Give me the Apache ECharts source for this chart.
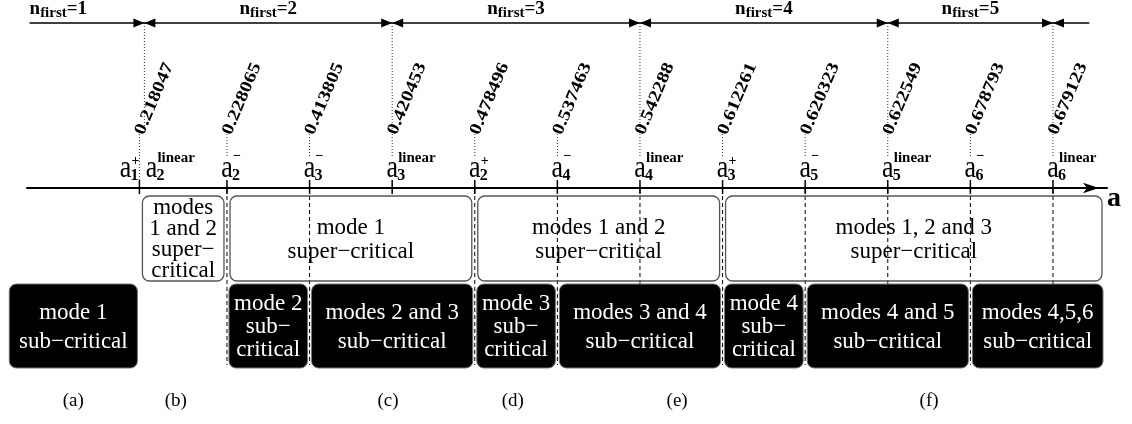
<!DOCTYPE html>
<html>
<head>
<meta charset="utf-8">
<script src="https://cdn.jsdelivr.net/npm/echarts@6/dist/echarts.min.js"></script>
<style>
html, body { margin: 0; background: #fff; }
#chart { width: 1132px; height: 424px; }
</style>
</head>
<body>
<div id="chart"></div>
<script>
// critical values of a, drawn at evenly spaced slots (schematic, not to scale)
var tickValues = ['0.218047', '0.228065', '0.413805', '0.420453', '0.478496', '0.537463',
                  '0.542288', '0.612261', '0.620323', '0.622549', '0.678793', '0.679123'];
var tickPos = [-0.06, 1, 2, 3, 4, 5, 6, 7, 8, 9, 10, 11];
// [subscript, superscript] of each a at the tick (first tick carries two names)
var tickNames = [
	[['1', '+'], ['2', 'linear']],
	[['2', '−']], [['3', '−']], [['3', 'linear']], [['2', '+']],
	[['4', '−']], [['4', 'linear']], [['3', '+']], [['5', '−']],
	[['5', 'linear']], [['6', '−']], [['6', 'linear']]
];

// n_first changes at the a_n^linear values
var nFirst = [1, 2, 3, 4, 5];
var nBounds = [0, 3, 6, 9, 11];

// super-critical regimes (open boxes)
var superFrom = [-0.06, 1, 4, 7];
var superTo = [1, 4, 7, 11.63];
var superText = ['modes\n1 and 2\nsuper−\ncritical', 'mode 1\nsuper−critical',
                 'modes 1 and 2\nsuper−critical', 'modes 1, 2 and 3\nsuper−critical'];

// sub-critical regimes (black boxes)
var subFrom = [-1.66, 1, 2, 4, 5, 7, 8, 10];
var subTo = [-0.06, 2, 4, 5, 7, 8, 10, 11.63];
var subText = ['mode 1\nsub−critical', 'mode 2\nsub−\ncritical', 'modes 2 and 3\nsub−critical',
               'mode 3\nsub−\ncritical', 'modes 3 and 4\nsub−critical', 'mode 4\nsub−\ncritical',
               'modes 4 and 5\nsub−critical', 'modes 4,5,6\nsub−critical'];

var panelNames = ['(a)', '(b)', '(c)', '(d)', '(e)', '(f)'];
var panelPos = [-0.86, 0.38, 2.95, 4.46, 6.45, 9.5];

// ---- layout (y in px below the a axis) ----
var SERIF = '"Liberation Serif", "Times New Roman", serif';
var TOP_Y = -165, VAL_Y = -54, NAME_Y = -31;
var SUPER_ROW = [8, 93], SUB_ROW = [96, 180];
var dashDepth = [0, 177, 177, 0, 177, 177, 99, 177, 177, 99, 177, 99];
var lineStart = -1.39, lineEnd = 11.44;

function boxSeries(from, to, texts, row, dark) {
	return {
		type: 'custom', z: dark ? 4 : 2, silent: true,
		data: from.map(function (f, i) { return [f, to[i]]; }),
		renderItem: function (params, api) {
			var i = params.dataIndex;
			var inset = dark ? 2 : 3;
			var p0 = api.coord([api.value(0), row[0]]);
			var p1 = api.coord([api.value(1), row[1]]);
			var x = p0[0] + inset, w = p1[0] - p0[0] - 2 * inset;
			var n = texts[i].split('\n').length;
			return {
				type: 'group',
				children: [{
					type: 'rect',
					shape: { x: x, y: p0[1], width: w, height: p1[1] - p0[1], r: 7 },
					style: { fill: dark ? '#000' : 'none', stroke: dark ? '#777' : '#555', lineWidth: dark ? 1 : 1.3 }
				}, {
					type: 'text', x: x + w / 2, y: (p0[1] + p1[1]) / 2 + 1,
					style: {
						text: texts[i], fill: dark ? '#fff' : '#000', font: '23px ' + SERIF,
						align: 'center', verticalAlign: 'middle',
						lineHeight: n > 3 ? 21 : (n === 3 ? 23 : (dark ? 29 : 24))
					}
				}]
			};
		}
	};
}

var chart = echarts.init(document.getElementById('chart'));
var option = {
	animation: false,
	grid: { left: 27, right: 25, top: 0, bottom: 0 },
	xAxis: {
		type: 'value', min: -1.421, max: 11.654,
		axisLabel: { show: false }, axisTick: { show: false }, splitLine: { show: false },
		axisLine: {
			onZero: true, symbol: ['none', 'arrow'], symbolSize: [8, 16], symbolOffset: [0, -8],
			lineStyle: { color: '#000', width: 2 }
		},
		name: 'a', nameLocation: 'end', nameGap: 0,
		nameTextStyle: { fontFamily: SERIF, fontWeight: 'bold', fontSize: 28, color: '#000',
			align: 'left', verticalAlign: 'top', lineHeight: 22 }
	},
	yAxis: { type: 'value', min: -188, max: 236, inverse: true, show: false },
	series: [
		// n_first line across the top
		{
			type: 'line', silent: true, showSymbol: false, z: 3,
			data: [[lineStart, TOP_Y], [lineEnd, TOP_Y]],
			lineStyle: { color: '#000', width: 1.3 }
		},
		// arrowheads and dotted guides at the n_first bounds
		{
			type: 'custom', z: 3, silent: true,
			data: nBounds.map(function (b) { return [b, TOP_Y]; }),
			renderItem: function (params, api) {
				var p = api.coord([api.value(0), TOP_Y]);
				var q = api.coord([api.value(0), VAL_Y]);
				var x = p[0], y = p[1];
				return {
					type: 'group',
					children: [
						{ type: 'polygon', shape: { points: [[x, y], [x - 11, y - 4.5], [x - 11, y + 4.5]] }, style: { fill: '#000' } },
						{ type: 'polygon', shape: { points: [[x, y], [x + 11, y - 4.5], [x + 11, y + 4.5]] }, style: { fill: '#000' } },
						{ type: 'line', shape: { x1: x, y1: y, x2: x, y2: q[1] }, style: { stroke: '#333', lineWidth: 1, lineDash: [1, 2] } }
					]
				};
			}
		},
		// n_first labels
		{
			type: 'custom', z: 3, silent: true,
			data: nFirst.map(function (k, i) {
				return [i === 0 ? lineStart : (nBounds[i - 1] + nBounds[i]) / 2, TOP_Y];
			}),
			renderItem: function (params, api) {
				var i = params.dataIndex;
				var p = api.coord([api.value(0), TOP_Y - 14]);
				return {
					type: 'text', x: p[0], y: p[1],
					style: {
						text: '{n|n}{s|first}{e|=' + nFirst[i] + '}',
						align: i === 0 ? 'left' : 'center', verticalAlign: 'middle',
						rich: {
							n: { fontFamily: SERIF, fontWeight: 'bold', fontSize: 19, fill: '#000' },
							s: { fontFamily: SERIF, fontWeight: 'bold', fontSize: 15, fill: '#000', padding: [8, 0, 0, 0] },
							e: { fontFamily: SERIF, fontWeight: 'bold', fontSize: 19, fill: '#000' }
						}
					}
				};
			}
		},
		// dotted / dashed guides at each tick
		{
			type: 'custom', z: 1, silent: true,
			data: tickPos.map(function (t) { return [t, 0]; }),
			renderItem: function (params, api) {
				var i = params.dataIndex;
				var a = api.coord([api.value(0), VAL_Y]);
				var b = api.coord([api.value(0), i === 0 ? -5 : NAME_Y]);
				var children = [{ type: 'line', shape: { x1: a[0], y1: a[1], x2: b[0], y2: b[1] },
					style: { stroke: '#333', lineWidth: 1, lineDash: [1, 2] } }];
				if (dashDepth[i]) {
					var c = api.coord([api.value(0), 1]);
					var d = api.coord([api.value(0), dashDepth[i]]);
					children.push({ type: 'line', shape: { x1: c[0], y1: c[1], x2: d[0], y2: d[1] },
						style: { stroke: '#000', lineWidth: 1, lineDash: [4, 3] } });
				}
				return { type: 'group', children: children };
			}
		},
		// tick marks
		{
			type: 'custom', z: 5, silent: true,
			data: tickPos.map(function (t) { return [t, 0]; }),
			renderItem: function (params, api) {
				var p = api.coord([api.value(0), 0]);
				return { type: 'line', shape: { x1: p[0], y1: p[1] - 8, x2: p[0], y2: p[1] + 6 },
					style: { stroke: '#000', lineWidth: 1.5 } };
			}
		},
		// rotated critical values
		{
			type: 'custom', z: 3, silent: true,
			data: tickPos.map(function (t) { return [t, VAL_Y]; }),
			renderItem: function (params, api) {
				var p = api.coord([api.value(0), VAL_Y]);
				return {
					type: 'text', x: p[0], y: p[1], rotation: 67 * Math.PI / 180, scaleX: 1.2,
					style: { text: tickValues[params.dataIndex], font: 'bold 17px ' + SERIF, fill: '#000',
						align: 'left', verticalAlign: 'middle' }
				};
			}
		},
		// a_n^± names
		{
			type: 'custom', z: 3, silent: true,
			data: tickPos.map(function (t) { return [t, 0]; }),
			renderItem: function (params, api) {
				var names = tickNames[params.dataIndex];
				var p = api.coord([api.value(0), 0]);
				var children = [];
				names.forEach(function (nm, k) {
					var cx = names.length > 1 ? (k === 0 ? p[0] - 14 : p[0] + 12) : p[0];
					var lin = nm[1] === 'linear';
					var supY = lin ? 30 : (nm[1] === '+' ? 27 : 32);
					children.push(
						{ type: 'text', x: cx, y: p[1] - 20, scaleY: 1.25,
							style: { text: 'a', font: '26px ' + SERIF, fill: '#000', align: 'center', verticalAlign: 'middle' } },
						{ type: 'text', x: cx + 6, y: p[1] - supY,
							style: { text: nm[1], font: (lin ? 'bold 15px ' : 'bold 14px ') + SERIF, fill: '#000', align: 'left', verticalAlign: 'middle' } },
						{ type: 'text', x: cx + 5, y: p[1] - 12,
							style: { text: nm[0], font: 'bold 16px ' + SERIF, fill: '#000', align: 'left', verticalAlign: 'middle' } }
					);
				});
				return { type: 'group', children: children };
			}
		},
		boxSeries(superFrom, superTo, superText, SUPER_ROW, false),
		boxSeries(subFrom, subTo, subText, SUB_ROW, true),
		// panel labels
		{
			type: 'custom', z: 3, silent: true,
			data: panelPos.map(function (x) { return [x, 213]; }),
			renderItem: function (params, api) {
				var p = api.coord([api.value(0), api.value(1)]);
				return { type: 'text', x: p[0], y: p[1],
					style: { text: panelNames[params.dataIndex], font: '19px ' + SERIF, fill: '#000', align: 'center', verticalAlign: 'middle' } };
			}
		}
	]
};
chart.setOption(option);
</script>
</body>
</html>
